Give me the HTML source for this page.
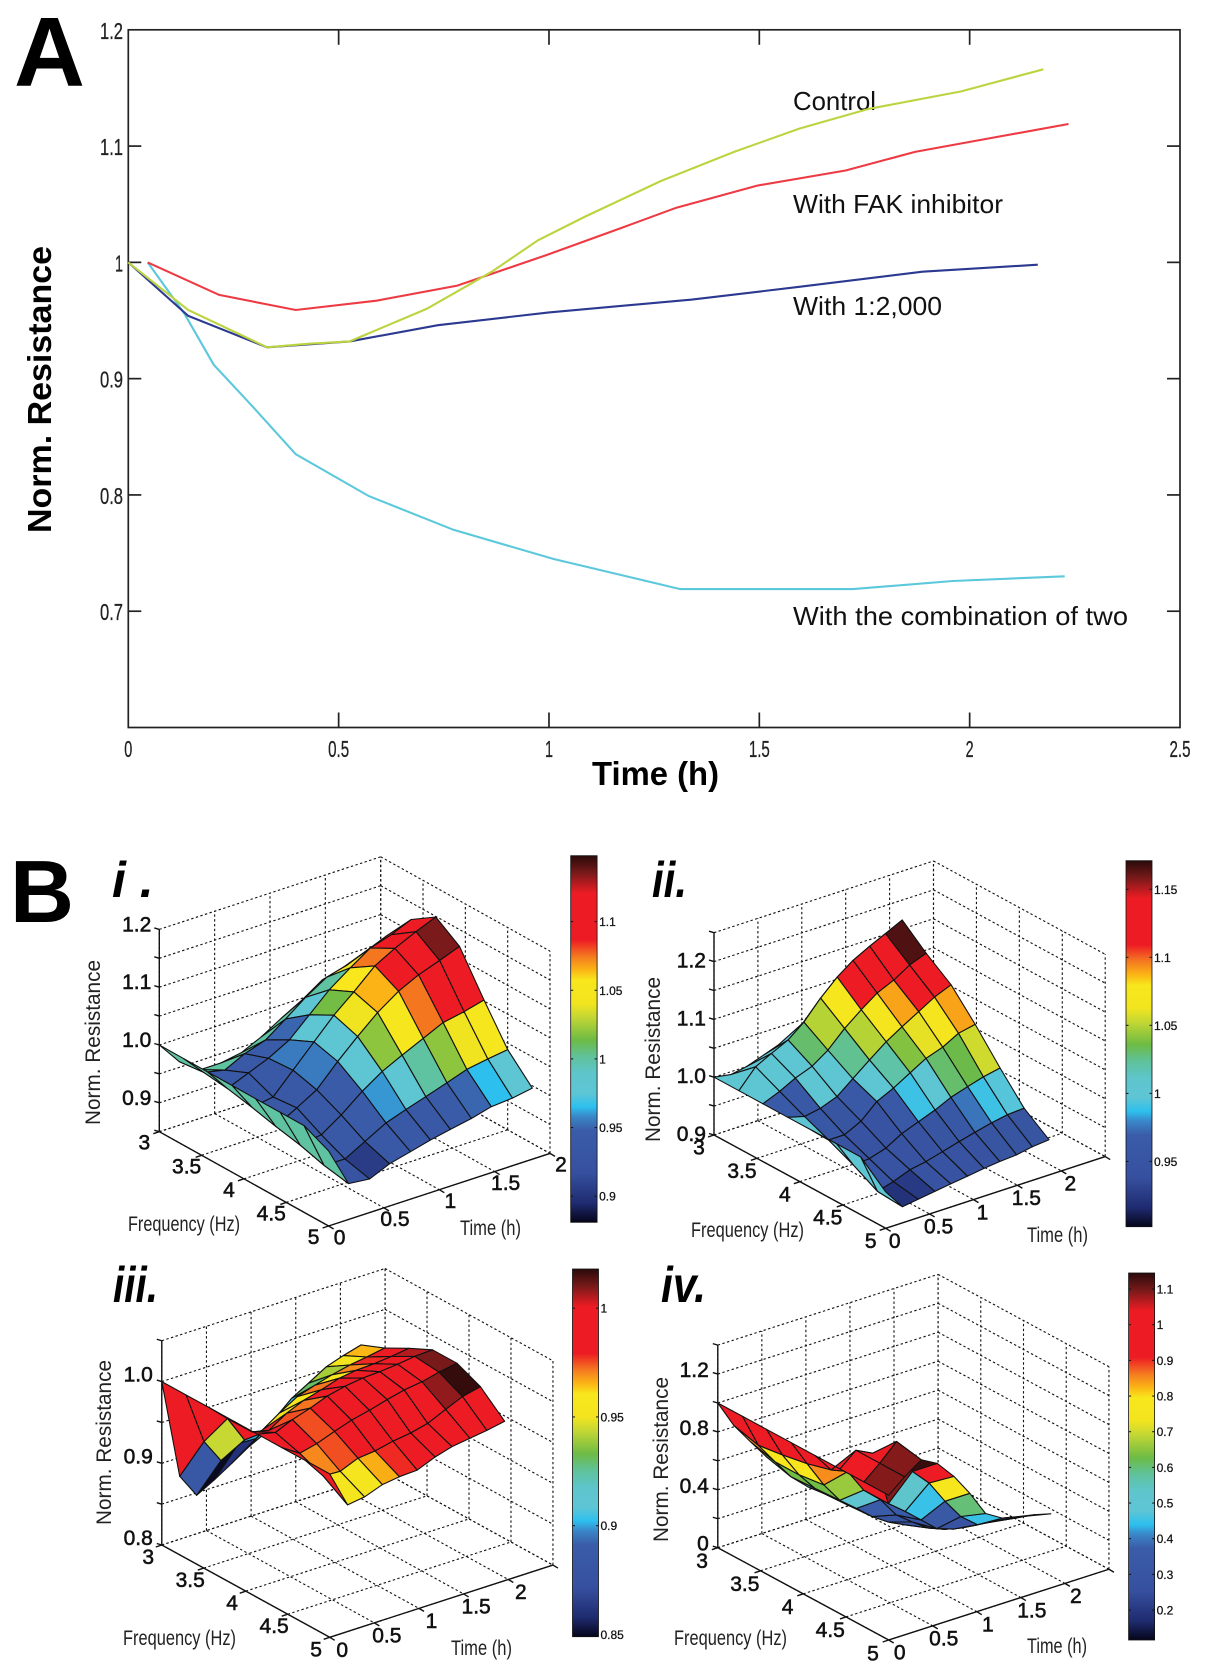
<!DOCTYPE html>
<html lang="en">
<head>
<meta charset="utf-8">
<title>Norm. Resistance figure</title>
<style>
html,body{margin:0;padding:0;background:#fff}
svg{display:block}
text{font-family:"Liberation Sans",sans-serif;fill:#111}
.bold{font-weight:700}
.tick3d{font-size:21px;stroke:#111;stroke-width:.55px}
.title3d{font-size:21px;fill:#222}
.cbtick{font-size:12px;stroke:#111;stroke-width:.25px}
.tickA{font-size:23px;fill:#222;stroke:#222;stroke-width:.3px}
.label{font-size:26px;fill:#111}
</style>
</head>
<body>
<svg id="figure" xmlns="http://www.w3.org/2000/svg" width="1205" height="1674" viewBox="0 0 1205 1674">
  <rect width="1205" height="1674" fill="#fff"/>

  <g id="panelA">
    <text class="bold" x="14" y="86" font-size="98" textLength="71" lengthAdjust="spacingAndGlyphs" style="fill:#000">A</text>
    <text class="bold" transform="translate(51,533) rotate(-90)" font-size="33" textLength="287" lengthAdjust="spacingAndGlyphs" style="fill:#000">Norm. Resistance</text>
    <text class="bold" x="592" y="785" font-size="33" textLength="127" lengthAdjust="spacingAndGlyphs" style="fill:#000">Time (h)</text>
    <text class="label" x="793" y="110" textLength="83" lengthAdjust="spacingAndGlyphs">Control</text>
    <text class="label" x="793" y="213" textLength="210" lengthAdjust="spacingAndGlyphs">With FAK inhibitor</text>
    <text class="label" x="793" y="315" textLength="149" lengthAdjust="spacingAndGlyphs">With 1:2,000</text>
    <text class="label" x="793" y="625" textLength="335" lengthAdjust="spacingAndGlyphs">With the combination of two</text>
  </g>

  <text class="bold" x="10" y="922" font-size="88" textLength="64" lengthAdjust="spacingAndGlyphs" style="fill:#000">B</text>

  <g id="panelI"></g>
  <g id="panelII"></g>
  <g id="panelIII"></g>
  <g id="panelIV"></g>

  <g>
    <text class="bold" x="112" y="897" font-size="50" font-style="italic" style="fill:#000">i .</text>
    <text class="bold" x="652" y="897" font-size="50" font-style="italic" textLength="35" lengthAdjust="spacingAndGlyphs" style="fill:#000">ii.</text>
    <text class="bold" x="113" y="1302" font-size="50" font-style="italic" textLength="45" lengthAdjust="spacingAndGlyphs" style="fill:#000">iii.</text>
    <text class="bold" x="661" y="1302" font-size="50" font-style="italic" textLength="45" lengthAdjust="spacingAndGlyphs" style="fill:#000">iv.</text>

    <text class="title3d" transform="translate(100,1125) rotate(-90)" textLength="165" lengthAdjust="spacingAndGlyphs">Norm. Resistance</text>
    <text class="title3d" x="128" y="1231" textLength="112" lengthAdjust="spacingAndGlyphs">Frequency (Hz)</text>
    <text class="title3d" x="460" y="1235" textLength="61" lengthAdjust="spacingAndGlyphs">Time (h)</text>

    <text class="title3d" transform="translate(660,1142) rotate(-90)" textLength="165" lengthAdjust="spacingAndGlyphs">Norm. Resistance</text>
    <text class="title3d" x="691" y="1237" textLength="113" lengthAdjust="spacingAndGlyphs">Frequency (Hz)</text>
    <text class="title3d" x="1027" y="1242" textLength="61" lengthAdjust="spacingAndGlyphs">Time (h)</text>

    <text class="title3d" transform="translate(111,1525) rotate(-90)" textLength="165" lengthAdjust="spacingAndGlyphs">Norm. Resistance</text>
    <text class="title3d" x="123" y="1645" textLength="113" lengthAdjust="spacingAndGlyphs">Frequency (Hz)</text>
    <text class="title3d" x="451" y="1655" textLength="61" lengthAdjust="spacingAndGlyphs">Time (h)</text>

    <text class="title3d" transform="translate(668,1542) rotate(-90)" textLength="165" lengthAdjust="spacingAndGlyphs">Norm. Resistance</text>
    <text class="title3d" x="674" y="1645" textLength="113" lengthAdjust="spacingAndGlyphs">Frequency (Hz)</text>
    <text class="title3d" x="1027" y="1653" textLength="60" lengthAdjust="spacingAndGlyphs">Time (h)</text>
  </g>
</svg>

<script>
/* ---------- Panel A data ---------- */
const xTicksA = [0, 0.5, 1, 1.5, 2, 2.5];
const xTickLabelsA = ['0', '0.5', '1', '1.5', '2', '2.5'];
const yTicksA = [1.2, 1.1, 1.0, 0.9, 0.8, 0.7];
const yTickLabelsA = ['1.2', '1.1', '1', '0.9', '0.8', '0.7'];

const comboTime = [0.046, 0.133, 0.203, 0.298, 0.398, 0.572, 0.773, 1.01, 1.312, 1.723, 1.96, 2.226];
const comboValues = [1.0, 0.956, 0.912, 0.875, 0.835, 0.799, 0.77, 0.745, 0.719, 0.719, 0.726, 0.73];
const inhibitorTime = [0.046, 0.216, 0.398, 0.59, 0.782, 0.992, 1.175, 1.303, 1.495, 1.705, 1.87, 2.007, 2.235];
const inhibitorValues = [1.0, 0.972, 0.959, 0.967, 0.98, 1.006, 1.03, 1.047, 1.066, 1.079, 1.095, 1.104, 1.119];
const dilutionTime = [0, 0.1425, 0.33, 0.526, 0.736, 1.0, 1.34, 1.595, 1.888, 2.162];
const dilutionValues = [1.0, 0.954, 0.927, 0.932, 0.946, 0.957, 0.968, 0.979, 0.992, 0.998];
const controlTime = [0, 0.1425, 0.33, 0.426, 0.526, 0.709, 0.864, 0.974, 1.084, 1.266, 1.44, 1.595, 1.76, 1.98, 2.175];
const controlValues = [1.0, 0.959, 0.927, 0.93, 0.932, 0.96, 0.992, 1.019, 1.039, 1.07, 1.095, 1.115, 1.132, 1.147, 1.166];

/* ---------- Surface axes data ---------- */
const frequencyRows = [3, 3.29, 3.57, 3.86, 4.14, 4.43, 4.71, 5];
const timeColumns = [0, 0.18, 0.37, 0.55, 0.74, 0.92, 1.1, 1.29, 1.47, 1.66, 1.84];
const timeColumnsII = [0, 0.19, 0.37, 0.56, 0.74, 0.93, 1.12, 1.3, 1.49, 1.67, 1.86];
const timeColumnsIII = [0, 0.2, 0.39, 0.59, 0.78, 0.98, 1.18, 1.37, 1.57, 1.76, 1.96];
const frequencyTicks = [3, 3.5, 4, 4.5, 5];
const frequencyTickLabels = ['3', '3.5', '4', '4.5', '5'];
const timeTicksShort = [0, 0.5, 1, 1.5, 2];
const timeTicksLong = [0, 0.5, 1, 1.5, 2, 2.5];
const timeTickLabels = ['0', '0.5', '1', '1.5', '2'];

/* ---------- Panel i ---------- */
const zGridI = [0.85, 0.9, 0.95, 1.0, 1.05, 1.1, 1.15, 1.2];
const zTicksI = [0.9, 1.0, 1.1, 1.2];
const zTickLabelsI = ['0.9', '1.0', '1.1', '1.2'];
const colorTicksI = [0.9, 0.95, 1, 1.05, 1.1];
const colorTickLabelsI = ['0.9', '0.95', '1', '1.05', '1.1'];
const surfaceI = [
  [1.00,0.96,0.934,0.934,0.94,0.956,0.977,0.997,1.02,1.03,1.04],
  [1.00,0.965,0.957,0.974,0.986,1.011,1.037,1.06,1.069,1.084,1.098],
  [1.00,0.96,0.975,0.989,1.009,1.041,1.073,1.099,1.122,1.133,1.148],
  [1.00,0.951,0.957,0.992,1.029,1.064,1.093,1.126,1.145,1.162,1.176],
  [1.00,0.941,0.961,0.981,1.018,1.05,1.08,1.105,1.122,1.135,1.148],
  [1.00,0.932,0.938,0.961,0.99,1.013,1.03,1.047,1.063,1.07,1.079],
  [1.00,0.92,0.919,0.938,0.958,0.97,0.981,0.993,1.005,1.011,1.016],
  [0.98,0.912,0.908,0.923,0.932,0.941,0.948,0.955,0.964,0.967,0.973]
];
const cellColorsI = [
  [1,1,1,1,1,1,1,1,1,1],
  [1,0.94,0.94,0.945,0.95,0.98,1.0,1.05,1.075,1.1],
  [1,0.94,0.94,0.955,0.98,1.015,1.055,1.075,1.1,1.1],
  [1,0.94,0.94,0.955,0.98,1.04,1.065,1.095,1.1,1.135],
  [1,0.94,0.94,0.945,0.98,1.02,1.05,1.075,1.1,1.1],
  [1,0.94,0.94,0.945,0.96,0.98,1.0,1.02,1.04,1.05],
  [1,0.925,0.905,0.94,0.94,0.94,0.945,0.95,0.965,0.98]
];

/* ---------- Panel ii ---------- */
const zGridII = [0.9, 0.95, 1.0, 1.05, 1.1, 1.15, 1.2, 1.25];
const zTicksII = [0.9, 1.0, 1.1, 1.2];
const zTickLabelsII = ['0.9', '1.0', '1.1', '1.2'];
const colorTicksII = [0.95, 1, 1.05, 1.1, 1.15];
const colorTickLabelsII = ['0.95', '1', '1.05', '1.1', '1.15'];
const surfaceII = [
  [1.0,0.995,1.0,1.01,1.02,1.03,1.05,1.07,1.09,1.11,1.13],
  [1.0,1.032,1.046,1.06,1.082,1.114,1.141,1.161,1.176,1.189,1.203],
  [1.0,1.012,1.026,1.037,1.056,1.084,1.107,1.127,1.14,1.157,1.168],
  [1.0,0.992,0.997,1.008,1.03,1.053,1.075,1.092,1.109,1.125,1.137],
  [1.0,0.974,0.974,0.988,1.013,1.027,1.044,1.06,1.07,1.085,1.091],
  [1.0,0.954,0.956,0.965,0.981,0.992,1.003,1.016,1.025,1.033,1.039],
  [1.0,0.931,0.939,0.95,0.955,0.963,0.971,0.978,0.985,0.99,0.992],
  [0.963,0.928,0.932,0.936,0.94,0.944,0.948,0.951,0.953,0.958,0.961]
];
const cellColorsII = [
  [1,1,1,1,1,1,1,1,1,1],
  [1,1.0,1.0,1.03,1.05,1.075,1.115,1.12,1.12,1.165],
  [0.965,0.96,1.0,1.0,1.025,1.05,1.07,1.09,1.12,1.12],
  [1,0.955,0.95,0.96,1.0,1.02,1.04,1.06,1.07,1.09],
  [1,0.945,0.945,0.945,0.96,0.99,1.0,1.03,1.035,1.055],
  [1,0.945,0.945,0.945,0.945,0.95,0.955,0.975,0.99,0.995],
  [1,0.92,0.925,0.945,0.945,0.945,0.945,0.95,0.95,0.95]
];

/* ---------- Panel iii ---------- */
const zGridIII = [0.8, 0.85, 0.9, 0.95, 1.0, 1.05];
const zTicksIII = [0.8, 0.9, 1.0];
const zTickLabelsIII = ['0.8', '0.9', '1.0'];
const colorTicksIII = [0.85, 0.9, 0.95, 1];
const colorTickLabelsIII = ['0.85', '0.9', '0.95', '1'];
const surfaceIII = [
  [1.0,0.877,0.847,0.859,0.872,0.886,0.897,0.91,0.92,0.93,0.94],
  [1.0,0.936,0.906,0.92,0.919,0.935,0.954,0.966,0.979,0.986,0.992],
  [1.0,0.98,0.947,0.952,0.966,0.979,0.986,0.992,0.997,1.0,1.004],
  [1.0,0.98,0.975,0.989,0.998,1.004,1.011,1.014,1.015,1.017,1.02],
  [1.0,0.995,1.004,1.011,1.019,1.024,1.027,1.028,1.03,1.033,1.034],
  [1.0,0.986,0.991,0.999,1.006,1.011,1.017,1.022,1.025,1.03,1.034],
  [1.0,0.974,0.973,0.982,0.984,0.989,0.992,0.997,1.007,1.016,1.021],
  [1.0,0.955,0.958,0.966,0.969,0.97,0.979,0.985,0.988,0.991,0.995]
];
const cellColorsIII = [
  [0.993,0.883,0.85,0.86,0.875,0.905,0.93,0.94,0.955,0.965],
  [0.993,0.944,0.91,0.9,0.955,0.905,0.93,0.94,0.955,0.965],
  [0.993,0.99,0.99,0.955,0.958,0.972,0.958,0.97,0.978,0.99],
  [0.993,0.99,0.975,0.972,0.98,0.985,0.99,0.995,1.0,1.005],
  [0.993,0.993,0.975,0.98,0.988,0.99,0.99,0.995,1.0,1.01],
  [0.993,0.97,0.975,0.98,0.985,0.99,0.99,0.995,1.008,1.017],
  [0.993,0.955,0.955,0.966,0.978,0.99,0.99,0.992,0.995,0.995]
];

/* ---------- Panel iv ---------- */
const zGridIV = [0, 0.2, 0.4, 0.6, 0.8, 1.0, 1.2, 1.4];
const zTicksIV = [0, 0.4, 0.8, 1.2];
const zTickLabelsIV = ['0', '0.4', '0.8', '1.2'];
const colorTicksIV = [0.2, 0.3, 0.4, 0.5, 0.6, 0.7, 0.8, 0.9, 1, 1.1];
const colorTickLabelsIV = ['0.2', '0.3', '0.4', '0.5', '0.6', '0.7', '0.8', '0.9', '1', '1.1'];
const surfaceIV = [
  [1,0.811,0.661,0.521,0.394,0.288,0.194,0.12,0.12,0.12,0.12],
  [1,0.765,0.613,0.475,0.369,0.288,0.205,0.122,0.12,0.12,0.12],
  [1,0.788,0.613,0.484,0.392,0.297,0.214,0.145,0.12,0.12,0.12],
  [1,0.82,0.636,0.495,0.401,0.309,0.237,0.18,0.131,0.12,0.12],
  [1,0.866,0.818,0.654,0.551,0.41,0.327,0.247,0.203,0.175,0.161],
  [1,1.094,1.037,0.654,0.562,0.468,0.373,0.332,0.325,0.302,0.30],
  [1,1.094,1.207,0.965,0.848,0.687,0.546,0.452,0.44,0.419,0.403],
  [1,1.092,1.173,1.113,0.986,0.834,0.659,0.59,0.565,0.541,0.512]
];
const cellColorsIV = [
  [0.99,0.85,0.63,0.5,0.4,0.33,0.3,0.3,0.3,0.3],
  [0.99,0.78,0.63,0.5,0.4,0.33,0.3,0.25,0.25,0.25],
  [0.99,0.78,0.63,0.5,0.4,0.33,0.3,0.25,0.25,0.25],
  [0.99,0.85,0.66,0.5,0.36,0.3,0.27,0.25,0.25,0.25],
  [0.99,0.99,0.99,0.45,0.35,0.3,0.3,0.25,0.25,0.25],
  [0.99,0.99,1.09,0.53,0.45,0.34,0.28,0.25,0.25,0.25],
  [1.09,1.09,1.135,0.99,0.78,0.6,0.45,0.32,0.3,0.27]
];

/* ---------- Shared colormap ---------- */
const colormapFractions = [0,0.052,0.134,0.25,0.288,0.315,0.352,0.406,0.452,0.497,0.56,0.597,0.66,0.688,0.725,0.77,0.897,0.952,1];
const colormapColors = ['#05051a','#1f2b70','#36509f','#3a5ca8','#3a86c8','#2dc0ee','#5ec5d5','#5ec5cc','#5fc29a','#6dbb45','#c4d733','#f2e41f','#f8e71c','#fbb515','#f47a20','#ed1c24','#ed1c24','#7a1a1a','#2a0a0a'];

const NS = 'http://www.w3.org/2000/svg';

function mk(tag, parent, attrs, txt) {
  const el = document.createElementNS(NS, tag);
  for (const k in attrs) el.setAttribute(k, attrs[k]);
  if (txt !== undefined) el.textContent = txt;
  parent.appendChild(el);
  return el;
}
function hexToRgb(h) {
  return [parseInt(h.slice(1, 3), 16), parseInt(h.slice(3, 5), 16), parseInt(h.slice(5, 7), 16)];
}
function colormap(frac) {
  const f = Math.max(0, Math.min(1, frac));
  for (let i = 1; i < colormapFractions.length; i++) {
    if (f <= colormapFractions[i]) {
      const a = colormapFractions[i - 1];
      const b = colormapFractions[i];
      const u = (f - a) / (b - a);
      const c0 = hexToRgb(colormapColors[i - 1]);
      const c1 = hexToRgb(colormapColors[i]);
      return 'rgb(' + c0.map((v, k) => Math.round(v + (c1[k] - v) * u)).join(',') + ')';
    }
  }
  return colormapColors[colormapColors.length - 1];
}

/* ---------- Panel A drawing ---------- */
(function drawPanelA() {
  const g = document.getElementById('panelA');
  const L = 128.3, R = 1180, T = 29.8, B = 727.5;
  const xA = v => L + (v / 2.5) * (R - L);
  const yA = v => B - ((v - 0.6) / 0.6) * (B - T);

  const frame = mk('rect', g, {x: L, y: T, width: R - L, height: B - T, fill: 'none', stroke: '#222', 'stroke-width': 1.7});
  
  

  xTicksA.forEach((v, i) => {
    if (i > 0 && i < xTicksA.length - 1) {
      const t1 = mk('line', g, {x1: xA(v), x2: xA(v), y1: B, y2: B - 15, stroke: '#222', 'stroke-width': 1.7});
      
      
      const t2 = mk('line', g, {x1: xA(v), x2: xA(v), y1: T, y2: T + 15, stroke: '#222', 'stroke-width': 1.7});
      
      
    }
    const s = xTickLabelsA[i];
    const lab = mk('text', g, {x: xA(v), y: 757, 'text-anchor': 'middle', class: 'tickA', textLength: s.length > 1 ? 21 : 8, lengthAdjust: 'spacingAndGlyphs'}, s);
    
    
  });
  yTicksA.forEach((v, i) => {
    if (i > 0) {
      const t1 = mk('line', g, {x1: L, x2: L + 13, y1: yA(v), y2: yA(v), stroke: '#222', 'stroke-width': 1.7});
      
      
      const t2 = mk('line', g, {x1: R, x2: R - 13, y1: yA(v), y2: yA(v), stroke: '#222', 'stroke-width': 1.7});
      
      
    }
    const s = yTickLabelsA[i];
    const lab = mk('text', g, {x: 123, y: yA(v) + 9, 'text-anchor': 'end', class: 'tickA', textLength: s.length > 1 ? 23 : 8, lengthAdjust: 'spacingAndGlyphs'}, s);
    
    
  });

  const pts = (ts, vs) => ts.map((t, i) => xA(t).toFixed(1) + ',' + yA(vs[i]).toFixed(1)).join(' ');
  const l1 = mk('polyline', g, {points: pts(comboTime, comboValues), fill: 'none', stroke: '#5cc8dc', 'stroke-width': 2.1});
  
  
  const l2 = mk('polyline', g, {points: pts(dilutionTime, dilutionValues), fill: 'none', stroke: '#2b3990', 'stroke-width': 2.1});
  
  
  const l3 = mk('polyline', g, {points: pts(inhibitorTime, inhibitorValues), fill: 'none', stroke: '#ee3a43', 'stroke-width': 2.1});
  
  
  const l4 = mk('polyline', g, {points: pts(controlTime, controlValues), fill: 'none', stroke: '#bcd43f', 'stroke-width': 2.1});
  
  
})();

/* ---------- 3D surface panels ---------- */
function drawSurfacePanel(id, cfg, zGrid, zTicks, zLabels, timeTicks, columns, surface, cells, cTicks, cLabels) {
  const g = document.getElementById(id);
  const P = (f, t, z) => [
    cfg.ox + (f - 3) / 2 * cfg.fx + t * cfg.tx,
    cfg.oy + (f - 3) / 2 * cfg.fy - t * cfg.ty - (z - cfg.zmin) * cfg.zs
  ];
  const dashed = (a, b) => {
    const ln = mk('line', g, {x1: a[0], y1: a[1], x2: b[0], y2: b[1], stroke: '#111', 'stroke-width': 1.1, 'stroke-dasharray': '2.4 2.4'});
    
    
  };
  const solid = (a, b) => {
    const ln = mk('line', g, {x1: a[0], y1: a[1], x2: b[0], y2: b[1], stroke: '#111', 'stroke-width': 1.4});
    
    
  };
  const tmax = cfg.tmax;
  timeTicks.forEach(t => {
    dashed(P(3, t, cfg.zmin), P(5, t, cfg.zmin));
    dashed(P(3, t, cfg.zmin), P(3, t, cfg.ztop));
  });
  frequencyTicks.forEach(f => {
    dashed(P(f, 0, cfg.zmin), P(f, tmax, cfg.zmin));
    dashed(P(f, tmax, cfg.zmin), P(f, tmax, cfg.ztop));
  });
  zGrid.forEach(z => {
    dashed(P(3, 0, z), P(3, tmax, z));
    dashed(P(3, tmax, z), P(5, tmax, z));
  });
  solid(P(3, 0, cfg.zmin), P(3, 0, cfg.ztop));
  solid(P(3, 0, cfg.zmin), P(5, 0, cfg.zmin));
  solid(P(5, 0, cfg.zmin), P(5, tmax, cfg.zmin));

  zGrid.forEach(z => {
    const p = P(3, 0, z);
    solid(p, [p[0] - 5, p[1] - 1.5]);
  });
  frequencyTicks.forEach(f => {
    const p = P(f, 0, cfg.zmin);
    solid(p, [p[0] - 6, p[1] + 2]);
  });
  timeTicks.forEach(t => {
    const p = P(5, t, cfg.zmin);
    solid(p, [p[0] + 5, p[1] + 3]);
  });

  zTicks.forEach((z, i) => {
    const p = P(3, 0, z);
    const lab = mk('text', g, {x: p[0] + cfg.zLabelDx, y: p[1] + cfg.zLabelDy, 'text-anchor': 'end', class: 'tick3d'}, zLabels[i]);
    
    
  });
  frequencyTicks.forEach((f, i) => {
    const p = P(f, 0, cfg.zmin);
    const lab = mk('text', g, {x: p[0] + cfg.fLabelDx, y: p[1] + cfg.fLabelDy + 7, 'text-anchor': 'middle', class: 'tick3d'}, frequencyTickLabels[i]);
    
    
  });
  timeTickLabels.forEach((s, i) => {
    const p = P(5, timeTicksShort[i], cfg.zmin);
    const lab = mk('text', g, {x: p[0] + cfg.tLabelDx, y: p[1] + cfg.tLabelDy + 7, 'text-anchor': 'middle', class: 'tick3d'}, s);
    
    
  });

  /* surface: painter's order, far rows/late columns first */
  for (let r = 0; r < frequencyRows.length - 1; r++) {
    for (let c = columns.length - 2; c >= 0; c--) {
      const corners = [
        P(frequencyRows[r], columns[c], surface[r][c]),
        P(frequencyRows[r + 1], columns[c], surface[r + 1][c]),
        P(frequencyRows[r + 1], columns[c + 1], surface[r + 1][c + 1]),
        P(frequencyRows[r], columns[c + 1], surface[r][c + 1])
      ];
      const frac = (cells[r][c] - cfg.cmin) / (cfg.cmax - cfg.cmin);
      const cell = mk('polygon', g, {
        points: corners.map(p => p[0].toFixed(1) + ',' + p[1].toFixed(1)).join(' '),
        fill: colormap(frac), stroke: '#111', 'stroke-width': 1.1, 'stroke-linejoin': 'round'
      });
      
      
    }
  }

  /* colour bar */
  const gradId = id + 'Gradient';
  const defs = mk('defs', g, {});
  const grad = mk('linearGradient', defs, {id: gradId, x1: 0, y1: 1, x2: 0, y2: 0});
  colormapFractions.forEach((f, i) => {
    mk('stop', grad, {offset: f, 'stop-color': colormapColors[i]});
  });
  const bar = mk('rect', g, {x: cfg.barX, y: cfg.barTop, width: cfg.barW, height: cfg.barBottom - cfg.barTop, fill: 'url(#' + gradId + ')', stroke: '#111', 'stroke-width': 0.8});
  
  
  const yC = v => cfg.barBottom - (v - cfg.cmin) / (cfg.cmax - cfg.cmin) * (cfg.barBottom - cfg.barTop);
  cTicks.forEach((v, i) => {
    const y = yC(v);
    const t1 = mk('line', g, {x1: cfg.barX, x2: cfg.barX + 2.5, y1: y, y2: y, stroke: '#111', 'stroke-width': 1});
    
    
    const t2 = mk('line', g, {x1: cfg.barX + cfg.barW, x2: cfg.barX + cfg.barW - 2.5, y1: y, y2: y, stroke: '#111', 'stroke-width': 1});
    
    
    const lab = mk('text', g, {x: cfg.barX + cfg.barW + 2, y: y + 4.5, class: 'cbtick'}, cLabels[i]);
    
    
  });
}

drawSurfacePanel('panelI', {
  ox: 159.3, oy: 1131.7, fx: 169.3, fy: 94.3, tx: 110.7, ty: 36.3, zs: 578, zmin: 0.85, ztop: 1.2, tmax: 2,
  cmin: 0.881, cmax: 1.148, barX: 570.7, barW: 26.4, barTop: 855.7, barBottom: 1222.3,
  zLabelDx: -8, zLabelDy: 2, fLabelDx: -15, fLabelDy: 11, tLabelDx: 11, tLabelDy: 11.3
}, zGridI, zTicksI, zTickLabelsI, timeTicksShort, timeColumns, surfaceI, cellColorsI, colorTicksI, colorTickLabelsI);

drawSurfacePanel('panelII', {
  ox: 714, oy: 1135, fx: 171.7, fy: 93.3, tx: 87.8, ty: 28.7, zs: 578, zmin: 0.9, ztop: 1.25, tmax: 2.5,
  cmin: 0.902, cmax: 1.171, barX: 1126, barW: 26, barTop: 860.7, barBottom: 1226.7,
  zLabelDx: -8, zLabelDy: 6, fLabelDx: -15, fLabelDy: 12.7, tLabelDx: 9, tLabelDy: 12.7
}, zGridII, zTicksII, zTickLabelsII, timeTicksLong, timeColumnsII, surfaceII, cellColorsII, colorTicksII, colorTickLabelsII);

drawSurfacePanel('panelIII', {
  ox: 161.8, oy: 1545, fx: 167.9, fy: 92.3, tx: 89.3, ty: 28.9, zs: 817, zmin: 0.8, ztop: 1.05, tmax: 2.5,
  cmin: 0.849, cmax: 1.018, barX: 572.5, barW: 26, barTop: 1269, barBottom: 1636.7,
  zLabelDx: -9, zLabelDy: 0, fLabelDx: -13.6, fLabelDy: 12, tLabelDx: 12.5, tLabelDy: 12.7
}, zGridIII, zTicksIII, zTickLabelsIII, timeTicksLong, timeColumnsIII, surfaceIII, cellColorsIII, colorTicksIII, colorTickLabelsIII);

drawSurfacePanel('panelIV', {
  ox: 717.8, oy: 1547.7, fx: 170.9, fy: 92.3, tx: 88.1, ty: 28.3, zs: 144.7, zmin: 0, ztop: 1.4, tmax: 2.5,
  cmin: 0.116, cmax: 1.145, barX: 1128.6, barW: 26, barTop: 1273, barBottom: 1640,
  zLabelDx: -9, zLabelDy: 3, fLabelDx: -15.7, fLabelDy: 13.3, tLabelDx: 11, tLabelDy: 12.7
}, zGridIV, zTicksIV, zTickLabelsIV, timeTicksLong, timeColumns, surfaceIV, cellColorsIV, colorTicksIV, colorTickLabelsIV);
</script>
</body>
</html>
